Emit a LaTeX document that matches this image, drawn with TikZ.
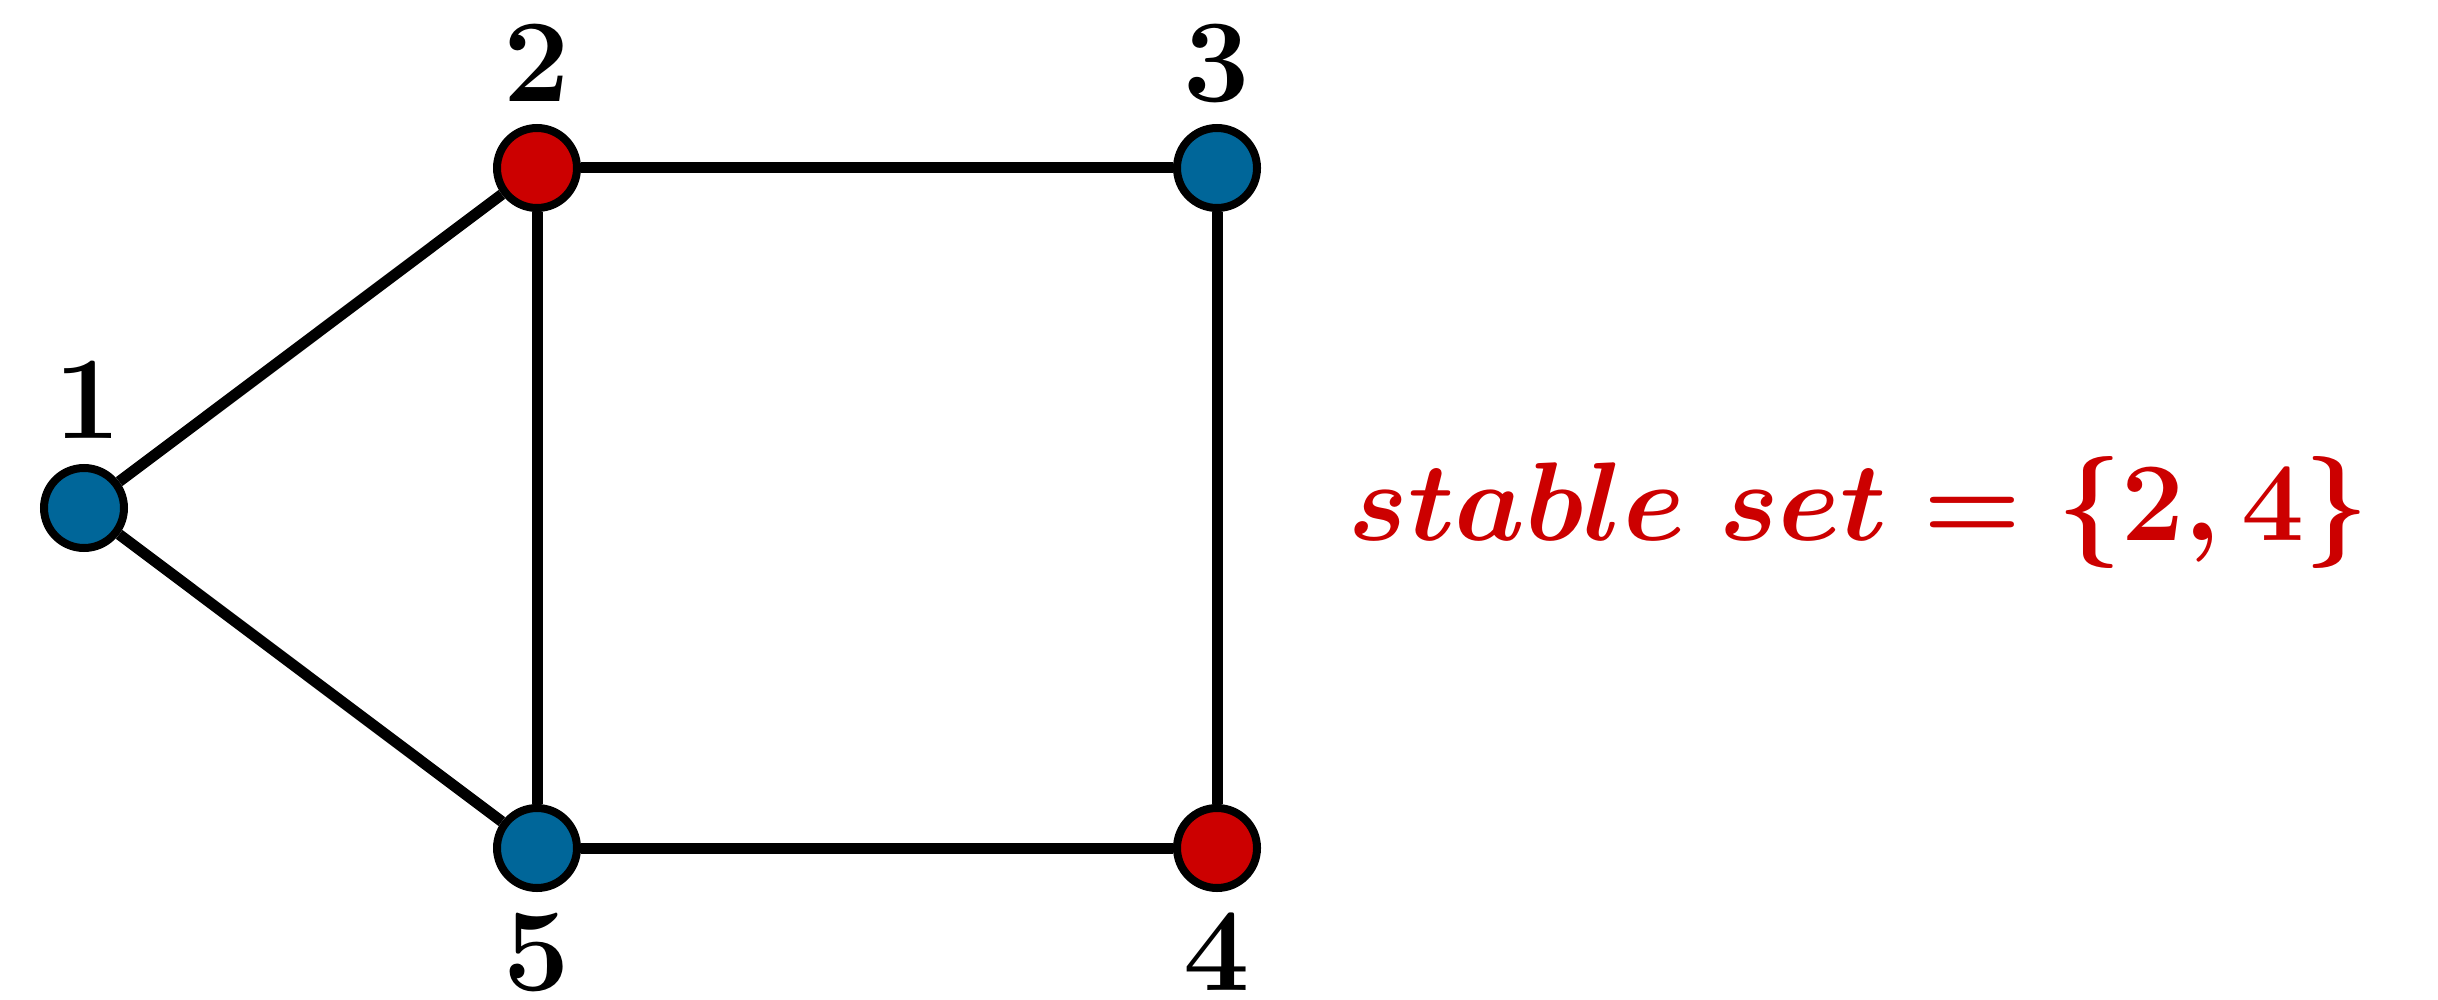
\documentclass[tikz,border=0pt]{standalone}
\usepackage{fix-cm}
\definecolor{vred}{HTML}{CC0000}
\definecolor{vblue}{HTML}{006699}
\tikzset{
  vtx/.style={circle, draw=black, line width=2.4pt, minimum size=24pt, inner sep=0pt},
  redv/.style={vtx, fill=vred},
  bluev/.style={vtx, fill=vblue},
  edg/.style={line width=3.3pt, black},
  lbl/.style={inner sep=0pt, anchor=base, font=\fontsize{35.4}{40}\selectfont}
}
\begin{document}
\begin{tikzpicture}[x=0.3pt, y=-0.3pt]
\useasboundingbox (0,0) rectangle (2438,1000);
\node[bluev] (n1) at (84,508) {};
\node[redv]  (n2) at (537,168) {};
\node[bluev] (n3) at (1217,168) {};
\node[redv]  (n4) at (1217,848) {};
\node[bluev] (n5) at (537,848) {};
\draw[edg] (n1) -- (n2);
\draw[edg] (n1) -- (n5);
\draw[edg] (n2) -- (n3);
\draw[edg] (n2) -- (n5);
\draw[edg] (n3) -- (n4);
\draw[edg] (n5) -- (n4);
\node[lbl] (l1) at (88,438) {$\mathbf{1}$};
\node[lbl] (l2) at (537,102) {$\mathbf{2}$};
\node[lbl] (l3) at (1217,102) {$\mathbf{3}$};
\node[lbl] (l4) at (1217,990) {$\mathbf{4}$};
\node[lbl] (l5) at (537,990) {$\mathbf{5}$};
\node[inner sep=0pt, anchor=base west, text=vred, font=\fontsize{33.6}{40}\selectfont\boldmath] (txt) at (1348,540) {$stable\ set=\{2,4\}$};
\end{tikzpicture}
\end{document}
